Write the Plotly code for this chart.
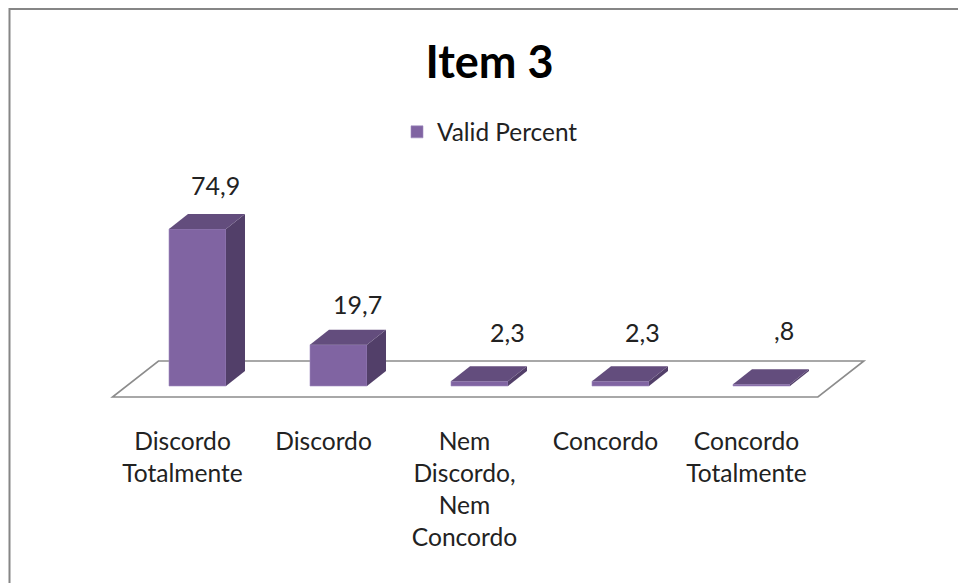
import plotly.graph_objects as go

categories = ["Discordo<br>Totalmente", "Discordo", "Nem<br>Discordo,<br>Nem<br>Concordo", "Concordo", "Concordo<br>Totalmente"]
values = [74.9, 19.7, 2.3, 2.3, 0.8]
value_labels = ["74,9", "19,7", "2,3", "2,3", ",8"]
series_name = "Valid Percent"
chart_title = "Item 3"

W, H = 958, 583
X0_PX, X_STEP = 197.5, 141.0   # pixel of category 0, pixels per category
Y0_PX, Y_SCALE = 386.0, 2.096  # pixel of value 0, pixels per value unit
AXIS_PX = 420                  # bottom of plot area
BAR_W = 57 / X_STEP
DX, DY = 19 / X_STEP, 15 / Y_SCALE
FONT = "Lato, Carlito, Calibri, sans-serif"
C_FRONT, C_TOP, C_SIDE = "#8064A2", "#634D7D", "#523F69"
TEXT = "#222222"

xs = list(range(len(values)))
fig = go.Figure()
fig.add_bar(x=xs, y=values, width=BAR_W, name=series_name,
            marker=dict(color=C_FRONT, line=dict(color="#A08CC0", width=0.6)), showlegend=True)

for x, v in zip(xs, values):
    l, r = x - BAR_W / 2, x + BAR_W / 2
    fig.add_scatter(x=[r, r + DX, r + DX, r, r], y=[0, DY, v + DY, v, 0], mode="lines", fill="toself",
                    fillcolor=C_SIDE, line=dict(width=0, color=C_SIDE), showlegend=False, hoverinfo="skip")
    fig.add_scatter(x=[l, r, r + DX, l + DX, l], y=[v, v, v + DY, v + DY, v], mode="lines", fill="toself",
                    fillcolor=C_TOP, line=dict(width=0, color=C_TOP), showlegend=False, hoverinfo="skip")

# data labels, nudged to where the original places them
shift_x = [18, 19, 28, 22, 22]
shift_y = [44, 41, 49, 49, 54]
for x, v, t, sx, sy in zip(xs, values, value_labels, shift_x, shift_y):
    fig.add_annotation(x=x, y=v, text=t, showarrow=False, xshift=sx, yshift=sy,
                       font=dict(family=FONT, size=25, color=TEXT))

# floor of the 3D chart
fl, fr = -0.603, 4.40
fy, by = (Y0_PX - 397) / Y_SCALE, (Y0_PX - 361) / Y_SCALE
off = 46 / X_STEP
floor_path = f"M {fl} {fy} L {fr} {fy} L {fr + off} {by} L {fl + off} {by} Z"

fig.update_layout(
    width=W, height=H, autosize=False,
    margin=dict(l=0, r=0, t=0, b=H - AXIS_PX, pad=0),
    paper_bgcolor="white", plot_bgcolor="white",
    title=dict(text=chart_title, x=489.5 / W, xanchor="center", y=1 - 62 / H, yanchor="middle",
               font=dict(family=FONT, size=45, color="black", weight="bold")),
    legend=dict(x=397 / W, xanchor="left", y=(AXIS_PX - 132) / AXIS_PX, yanchor="middle",
                orientation="h", bgcolor="rgba(0,0,0,0)",
                font=dict(family=FONT, size=24.4, color=TEXT)),
    xaxis=dict(range=[-X0_PX / X_STEP, (W - X0_PX) / X_STEP], tickvals=xs, ticktext=categories,
               showgrid=False, zeroline=False, showline=False, ticks="", ticklabelshift=-15,
               ticklabelstandoff=4,
               tickfont=dict(family=FONT, size=24.6, color=TEXT), fixedrange=True),
    yaxis=dict(range=[(Y0_PX - AXIS_PX) / Y_SCALE, Y0_PX / Y_SCALE], visible=False, fixedrange=True),
    shapes=[
        dict(type="path", path=floor_path, xref="x", yref="y", layer="below",
             line=dict(color="#8C8C8C", width=1.6), fillcolor="white"),
        dict(type="rect", xref="paper", yref="paper", x0=9.5 / W, x1=1.05,
             y0=-1, y1=(AXIS_PX - 9) / AXIS_PX, line=dict(color="#868686", width=2),
             fillcolor="rgba(0,0,0,0)", layer="below"),
    ],
)
fig.write_html("out.html", config=dict(displayModeBar=False),
               post_script="document.body.style.margin='0';document.documentElement.style.overflow='hidden';")
